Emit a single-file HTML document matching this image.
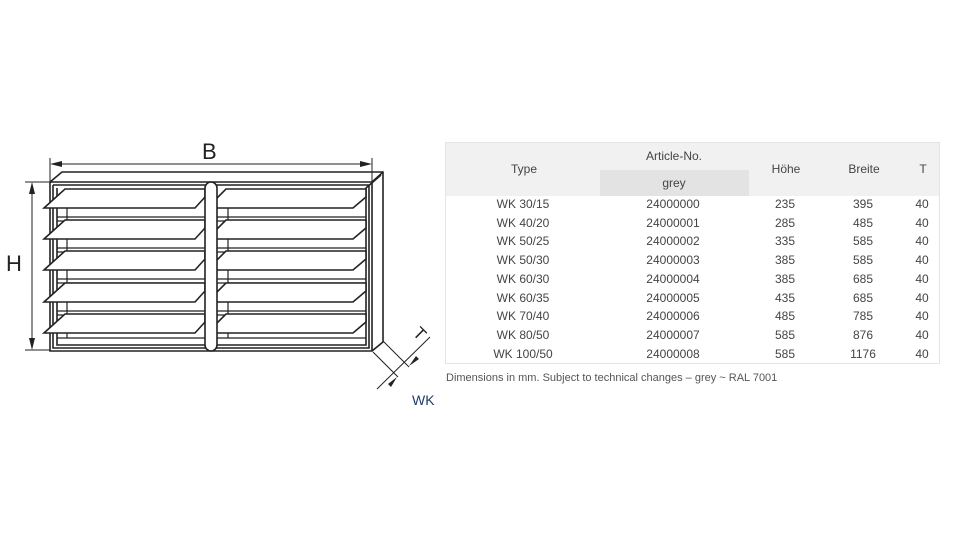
<!DOCTYPE html>
<html><head><meta charset="utf-8"><style>
body{margin:0;width:975px;height:538px;background:#fff;overflow:hidden;position:relative;font-family:"Liberation Sans Narrow","Liberation Sans",sans-serif}
svg{position:absolute;left:0;top:0}
.t{position:absolute;left:445px;top:142px;width:495px;height:222px;border:1px solid #e4e4e4;box-sizing:border-box}
.hd{position:absolute;left:0;top:0;width:100%;height:53px;background:#f1f1f1}
.g{position:absolute;left:154px;top:27px;width:149px;height:26px;background:#e3e3e3}
.c{position:absolute;font-size:12px;color:#444;transform:translateX(-50%);white-space:nowrap;line-height:12px}
.n{position:absolute;left:446px;top:372px;font-size:11px;color:#555;white-space:nowrap}
</style></head><body>
<svg width="975" height="538" viewBox="0 0 975 538" fill="none" stroke="#222" stroke-width="1.6">
<path d="M50 182 L62 172 L383 172 L383 342 L372 351 M50 182 L372 182 L383 172 M372 182 L372 351 L50 351 L50 182"/>
<path d="M53 185 L369 185 M53 185 L53 348 L369 348 L369 185 M57 188 L57 345 L366 345 L366 188 L381 175"/>
<path d="M67 205 L67 338 M228 205 L228 338" stroke-width="1.2"/>
<path d="M57 338 L205 338 M217 338 L366 338" stroke-width="1.2"/>
<g stroke-width="1.2">
<path d="M57 217 L205 217 M57 221 L205 221 M217 217 L366 217 M217 221 L366 221"/>
<path d="M57 248 L205 248 M57 252 L205 252 M217 248 L366 248 M217 252 L366 252"/>
<path d="M57 279 L205 279 M57 283 L205 283 M217 279 L366 279 M217 283 L366 283"/>
<path d="M57 311 L205 311 M57 315 L205 315 M217 311 L366 311 M217 315 L366 315"/>
</g>
<polygon points="65,189 205,189 205,197 195,208 44,208" fill="#fff"/>
<polygon points="226,189 366,189 366,197 353,208 207,208" fill="#fff"/>
<polygon points="65,220 205,220 205,228 195,239 44,239" fill="#fff"/>
<polygon points="226,220 366,220 366,228 353,239 207,239" fill="#fff"/>
<polygon points="65,251 205,251 205,259 195,270 44,270" fill="#fff"/>
<polygon points="226,251 366,251 366,259 353,270 207,270" fill="#fff"/>
<polygon points="65,283 205,283 205,291 195,302 44,302" fill="#fff"/>
<polygon points="226,283 366,283 366,291 353,302 207,302" fill="#fff"/>
<polygon points="65,314 205,314 205,322 195,333 44,333" fill="#fff"/>
<polygon points="226,314 366,314 366,322 353,333 207,333" fill="#fff"/>
<rect x="205" y="182" width="12" height="169" rx="6" fill="#fff"/>
<path d="M50 158 L50 182 M372 158 L372 182 M52 164 L370 164" stroke-width="1"/>
<path d="M50 164 L62 161 L62 167 Z M372 164 L360 161 L360 167 Z" fill="#222" stroke="none"/>
<path d="M25 182 L50 182 M25 350 L50 350 M32 184 L32 348" stroke-width="1"/>
<path d="M32 182 L29 194 L35 194 Z M32 350 L29 338 L35 338 Z" fill="#222" stroke="none"/>
<path d="M373 352 L398 377 M383 341 L409 367 M430 337 L377 389" stroke-width="1"/>
<path d="M409 366 L416 356 L419 359 Z M397 377 L388 384 L391 387 Z" fill="#222" stroke="none"/>
<text x="0" y="0" transform="translate(412,334) rotate(45)" font-family="Liberation Sans" font-size="17" fill="#222" stroke="none">T</text>
<text x="202" y="159" font-family="Liberation Sans" font-size="22" fill="#222" stroke="none">B</text>
<text x="6" y="271" font-family="Liberation Sans" font-size="22" fill="#222" stroke="none">H</text>
<text x="412" y="405" font-family="Liberation Sans" font-size="14" fill="#1d3d6e" stroke="none">WK</text>
</svg>
<div class="t"><div class="hd"></div><div class="g"></div>
<div class="c" style="left:78px;top:20px">Type</div>
<div class="c" style="left:228px;top:7px">Article-No.</div>
<div class="c" style="left:228px;top:34px">grey</div>
<div class="c" style="left:340px;top:20px">Höhe</div>
<div class="c" style="left:418px;top:20px">Breite</div>
<div class="c" style="left:477px;top:20px">T</div>
</div>
<div class="n">Dimensions in mm. Subject to technical changes – grey ~ RAL 7001</div>
<div style="position:absolute;left:445px;top:0">
<div class="c" style="left:78px;top:198px">WK 30/15</div><div class="c" style="left:228px;top:198px">24000000</div><div class="c" style="left:340px;top:198px">235</div><div class="c" style="left:418px;top:198px">395</div><div class="c" style="left:477px;top:198px">40</div>
<div class="c" style="left:78px;top:217px">WK 40/20</div><div class="c" style="left:228px;top:217px">24000001</div><div class="c" style="left:340px;top:217px">285</div><div class="c" style="left:418px;top:217px">485</div><div class="c" style="left:477px;top:217px">40</div>
<div class="c" style="left:78px;top:235px">WK 50/25</div><div class="c" style="left:228px;top:235px">24000002</div><div class="c" style="left:340px;top:235px">335</div><div class="c" style="left:418px;top:235px">585</div><div class="c" style="left:477px;top:235px">40</div>
<div class="c" style="left:78px;top:254px">WK 50/30</div><div class="c" style="left:228px;top:254px">24000003</div><div class="c" style="left:340px;top:254px">385</div><div class="c" style="left:418px;top:254px">585</div><div class="c" style="left:477px;top:254px">40</div>
<div class="c" style="left:78px;top:273px">WK 60/30</div><div class="c" style="left:228px;top:273px">24000004</div><div class="c" style="left:340px;top:273px">385</div><div class="c" style="left:418px;top:273px">685</div><div class="c" style="left:477px;top:273px">40</div>
<div class="c" style="left:78px;top:292px">WK 60/35</div><div class="c" style="left:228px;top:292px">24000005</div><div class="c" style="left:340px;top:292px">435</div><div class="c" style="left:418px;top:292px">685</div><div class="c" style="left:477px;top:292px">40</div>
<div class="c" style="left:78px;top:310px">WK 70/40</div><div class="c" style="left:228px;top:310px">24000006</div><div class="c" style="left:340px;top:310px">485</div><div class="c" style="left:418px;top:310px">785</div><div class="c" style="left:477px;top:310px">40</div>
<div class="c" style="left:78px;top:329px">WK 80/50</div><div class="c" style="left:228px;top:329px">24000007</div><div class="c" style="left:340px;top:329px">585</div><div class="c" style="left:418px;top:329px">876</div><div class="c" style="left:477px;top:329px">40</div>
<div class="c" style="left:78px;top:348px">WK 100/50</div><div class="c" style="left:228px;top:348px">24000008</div><div class="c" style="left:340px;top:348px">585</div><div class="c" style="left:418px;top:348px">1176</div><div class="c" style="left:477px;top:348px">40</div>
</div>
</body></html>
